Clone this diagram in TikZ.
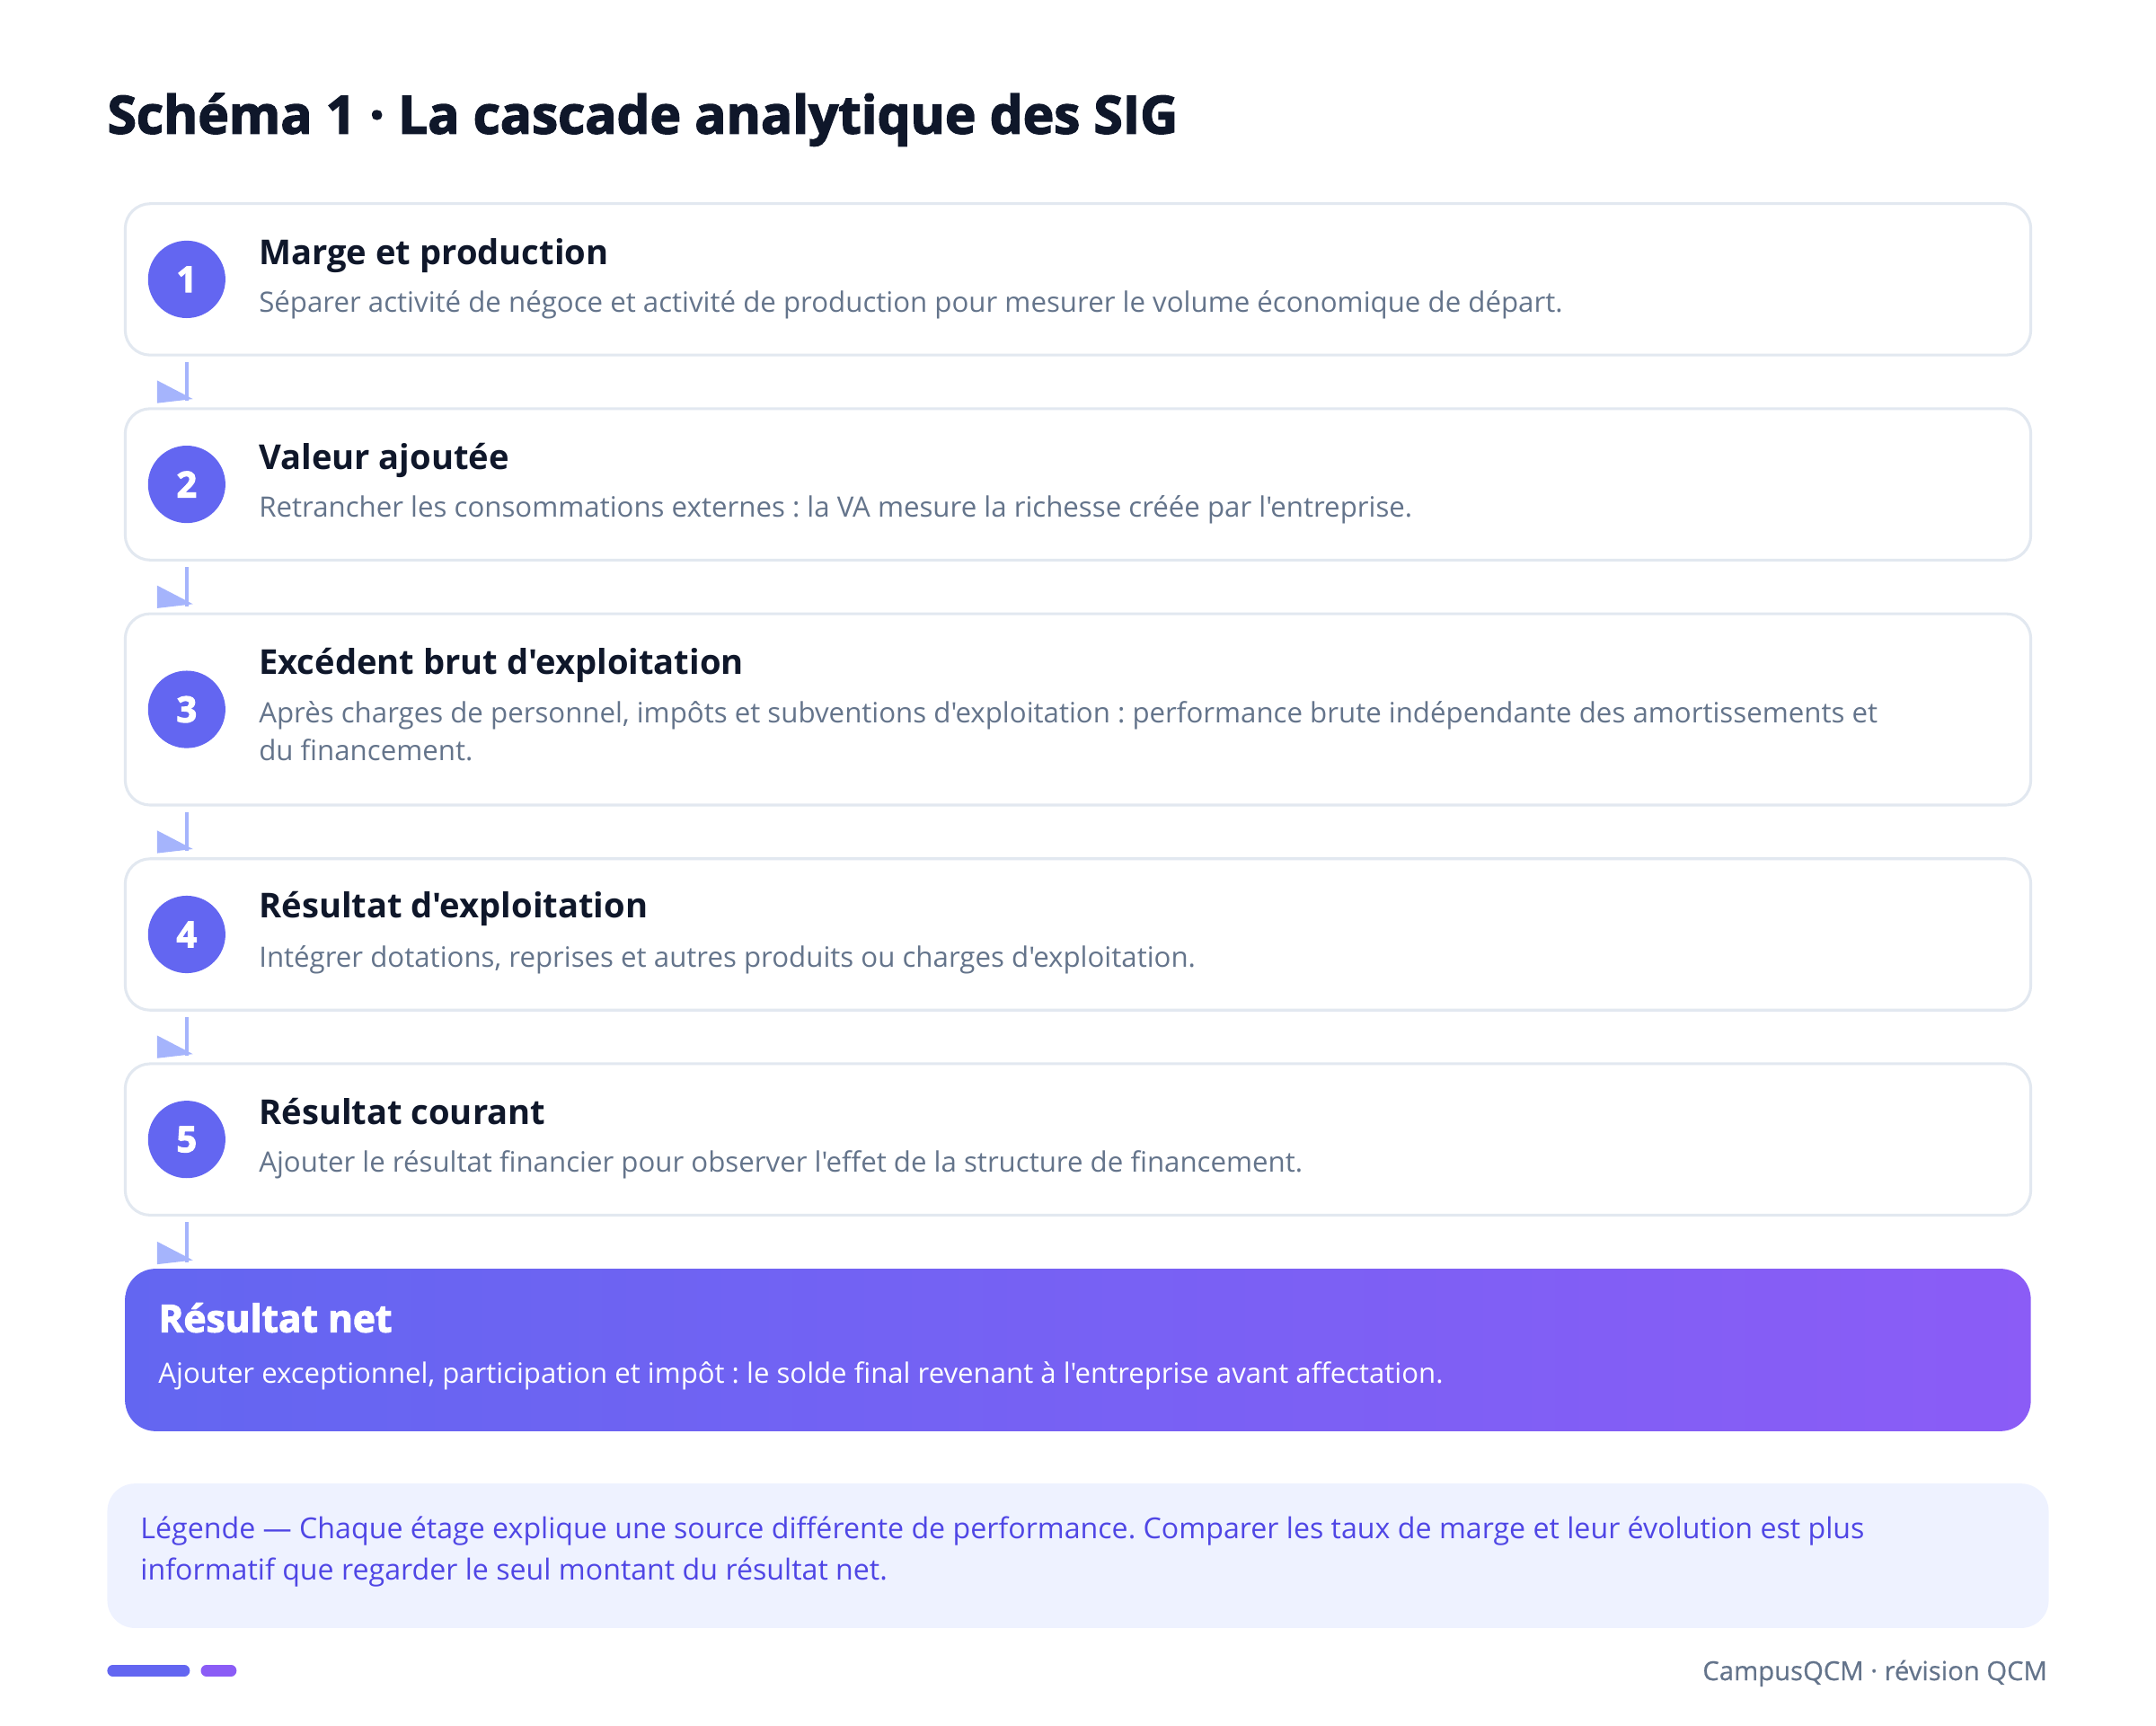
\documentclass[tikz,border=0pt]{standalone}
\usepackage{fontspec}
\setmainfont{Open Sans}[Ligatures=TeXOff]
\newfontfamily\heavyfont{Open Sans}[Ligatures=TeXOff, BoldFeatures={FakeBold=2.5}]
\newfontfamily\semifont{Open Sans}[Ligatures=TeXOff, FakeBold=0.5]
\usepackage{xcolor}
\usetikzlibrary{positioning}
\frenchspacing

\definecolor{indigo}{HTML}{6366F1}
\definecolor{violet}{HTML}{8B5CF6}
\definecolor{arrowblue}{HTML}{A5B4FC}
\definecolor{cardline}{HTML}{E2E8F0}
\definecolor{ink}{HTML}{0F172A}
\definecolor{slate}{HTML}{64748B}
\definecolor{legendfill}{HTML}{EEF2FF}
\definecolor{legendink}{HTML}{4F46E5}

\begin{document}
\begin{tikzpicture}[x=1pt, y=-1pt,
    stepbox/.style={draw=cardline, line width=2pt, fill=white, rectangle, rounded corners=18pt, minimum width=1378.8pt, inner sep=0pt},
    numdot/.style={circle, fill=indigo, text=white, minimum size=56pt, inner sep=0pt, font=\heavyfont\bfseries\fontsize{26}{26}\selectfont},
    steptitle/.style={anchor=base west, text=ink, inner sep=0pt, font=\fontsize{24.8}{28}\selectfont\bfseries},
    stepdesc/.style={anchor=base west, text=slate, inner sep=0pt, align=left, font=\fontsize{20.3}{27.9}\selectfont},
    flow/.style={draw=arrowblue, line width=2.6pt},
    flowtip/.style={fill=arrowblue}]
\useasboundingbox (0,0) rectangle (1560,1248);

\node[anchor=base west, inner sep=0pt, text=ink, font=\heavyfont\bfseries\fontsize{38}{42}\selectfont] (title) at (77.6,96.6) {Schéma 1 · La cascade analytique des SIG};

% les cinq étages
\node[stepbox, minimum height=109.5pt] (b1) at (780,202.1) {};
\node[numdot] (n1) at ([xshift=45.5pt]b1.west) {1};
\node[steptitle] (t1) at (187.2,191.1) {Marge et production};
\node[stepdesc] (d1) at (187.2,226) {Séparer activité de négoce et activité de production pour mesurer le volume économique de départ.};

\node[stepbox, minimum height=109.5pt] (b2) at (780,350.4) {};
\node[numdot] (n2) at ([xshift=45.5pt]b2.west) {2};
\node[steptitle] (t2) at (187.2,339.5) {Valeur ajoutée};
\node[stepdesc] (d2) at (187.2,374.3) {Retrancher les consommations externes : la VA mesure la richesse créée par l'entreprise.};

\node[stepbox, minimum height=138.4pt] (b3) at (780,513.2) {};
\node[numdot] (n3) at ([xshift=45.5pt]b3.west) {3};
\node[steptitle] (t3) at (187.2,487.8) {Excédent brut d'exploitation};
\node[stepdesc] (d3) at (187.2,550.5) {Après charges de personnel, impôts et subventions d'exploitation : performance brute indépendante des amortissements et\\du financement.};

\node[stepbox, minimum height=109.5pt] (b4) at (780,676) {};
\node[numdot] (n4) at ([xshift=45.5pt]b4.west) {4};
\node[steptitle] (t4) at (187.2,664) {Résultat d'exploitation};
\node[stepdesc] (d4) at (187.2,699.8) {Intégrer dotations, reprises et autres produits ou charges d'exploitation.};

\node[stepbox, minimum height=109.5pt] (b5) at (780,824.3) {};
\node[numdot] (n5) at ([xshift=45.5pt]b5.west) {5};
\node[steptitle] (t5) at (187.2,813.3) {Résultat courant};
\node[stepdesc] (d5) at (187.2,848.2) {Ajouter le résultat financier pour observer l'effet de la structure de financement.};

% solde final
\node[rectangle, rounded corners=22pt, left color=indigo, right color=violet, minimum width=1378.8pt, minimum height=117.5pt, inner sep=0pt] (net) at (780,976.6) {};
\node[anchor=base west, inner sep=0pt, text=white, font=\heavyfont\bfseries\fontsize{27.6}{30}\selectfont] (tnet) at (114.5,963.7) {Résultat net};
\node[anchor=base west, inner sep=0pt, text=white, font=\fontsize{20.25}{24}\selectfont] (dnet) at (114.5,1000.5) {Ajouter exceptionnel, participation et impôt : le solde final revenant à l'entreprise avant affectation.};

% flèches entre les étages
\foreach \i/\j in {1/b2,2/b3,3/b4,4/b5,5/net}{
  \draw[flow] ([yshift=-4pt]b\i.south -| n\i.center) -- ([yshift=4.5pt]\j.north -| n\i.center) coordinate (a\i);
  \fill[flowtip] (a\i) ++(-21.5,-15) -- ++(26,13.5) -- ++(-26,3) -- cycle;
}

% légende
\node[rectangle, rounded corners=20pt, fill=legendfill, minimum width=1404.7pt, minimum height=104.5pt, inner sep=0pt] (legend) at (780,1125.5) {};
\node[anchor=base west, inner sep=0pt, text=legendink, align=left, font=\fontsize{20.9}{29.9}\selectfont] (tlegend) at (101.5,1142.9) {Légende — Chaque étage explique une source différente de performance. Comparer les taux de marge et leur évolution est plus\\informatif que regarder le seul montant du résultat net.};

% pied de page
\draw[indigo, line width=8pt, line cap=round] (81.6,1208.6) -- (133.4,1208.6);
\draw[violet, line width=8pt, line cap=round] (149.3,1208.6) -- (167.2,1208.6);
\node[anchor=base east, inner sep=0pt, text=slate, font=\semifont\fontsize{19}{21}\selectfont] (foot) at (1481.5,1215.5) {CampusQCM · révision QCM};
\end{tikzpicture}
\end{document}
